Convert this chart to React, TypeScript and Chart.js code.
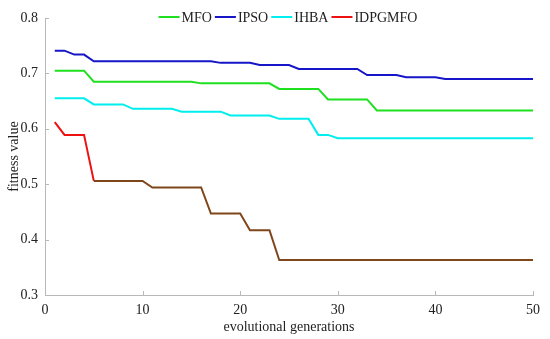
import React, { useEffect, useRef } from 'react';
import { Chart, registerables } from 'chart.js';

Chart.register(...registerables);

const generations = [
  1, 2, 3, 4, 5, 6, 7, 8, 9, 10,
  11, 12, 13, 14, 15, 16, 17, 18, 19, 20,
  21, 22, 23, 24, 25, 26, 27, 28, 29, 30,
  31, 32, 33, 34, 35, 36, 37, 38, 39, 40,
  41, 42, 43, 44, 45, 46, 47, 48, 49, 50,
];

const mfo = [
  0.705, 0.705, 0.705, 0.705, 0.685, 0.685, 0.685, 0.685, 0.685, 0.685,
  0.685, 0.685, 0.685, 0.685, 0.685, 0.682, 0.682, 0.682, 0.682, 0.682,
  0.682, 0.682, 0.682, 0.672, 0.672, 0.672, 0.672, 0.672, 0.653, 0.653,
  0.653, 0.653, 0.653, 0.633, 0.633, 0.633, 0.633, 0.633, 0.633, 0.633,
  0.633, 0.633, 0.633, 0.633, 0.633, 0.633, 0.633, 0.633, 0.633, 0.633,
];

const ipso = [
  0.741, 0.741, 0.734, 0.734, 0.722, 0.722, 0.722, 0.722, 0.722, 0.722,
  0.722, 0.722, 0.722, 0.722, 0.722, 0.722, 0.722, 0.719, 0.719, 0.719,
  0.719, 0.715, 0.715, 0.715, 0.715, 0.708, 0.708, 0.708, 0.708, 0.708,
  0.708, 0.708, 0.697, 0.697, 0.697, 0.697, 0.693, 0.693, 0.693, 0.693,
  0.690, 0.690, 0.690, 0.690, 0.690, 0.690, 0.690, 0.690, 0.690, 0.690,
];

const ihba = [
  0.655, 0.655, 0.655, 0.655, 0.644, 0.644, 0.644, 0.644, 0.636, 0.636,
  0.636, 0.636, 0.636, 0.631, 0.631, 0.631, 0.631, 0.631, 0.624, 0.624,
  0.624, 0.624, 0.624, 0.618, 0.618, 0.618, 0.618, 0.589, 0.589, 0.583,
  0.583, 0.583, 0.583, 0.583, 0.583, 0.583, 0.583, 0.583, 0.583, 0.583,
  0.583, 0.583, 0.583, 0.583, 0.583, 0.583, 0.583, 0.583, 0.583, 0.583,
];

const idpgmfo = [
  0.612, 0.589, 0.589, 0.589, 0.506, 0.506, 0.506, 0.506, 0.506, 0.506,
  0.494, 0.494, 0.494, 0.494, 0.494, 0.494, 0.447, 0.447, 0.447, 0.447,
  0.417, 0.417, 0.417, 0.363, 0.363, 0.363, 0.363, 0.363, 0.363, 0.363,
  0.363, 0.363, 0.363, 0.363, 0.363, 0.363, 0.363, 0.363, 0.363, 0.363,
  0.363, 0.363, 0.363, 0.363, 0.363, 0.363, 0.363, 0.363, 0.363, 0.363,
];

const xTicks = [0, 10, 20, 30, 40, 50];
const yTicks = [0.3, 0.4, 0.5, 0.6, 0.7, 0.8];

const FONT = "'Liberation Serif', 'Times New Roman', serif";
const TEXT = '#222222';
const AXIS = '#b8b8b8';
const RED = '#ee1111';
const BROWN = '#80461b';

const pts = (vals: number[]) => vals.map((v, i) => ({ x: generations[i], y: v }));

const insideTicks = {
  id: 'insideTicks',
  beforeDatasetsDraw(chart: any) {
    const { ctx, chartArea, scales } = chart;
    ctx.save();
    ctx.strokeStyle = AXIS;
    ctx.lineWidth = 1;
    ctx.beginPath();
    xTicks.forEach((t) => {
      const px = Math.round(scales.x.getPixelForValue(t)) + 0.5;
      ctx.moveTo(px, chartArea.bottom);
      ctx.lineTo(px, chartArea.bottom - 4);
    });
    yTicks.forEach((t) => {
      const py = Math.round(scales.y.getPixelForValue(t)) + 0.5;
      ctx.moveTo(chartArea.left, py);
      ctx.lineTo(chartArea.left + 4, py);
    });
    ctx.stroke();
    ctx.restore();
  },
};

const insideLegend = {
  id: 'insideLegend',
  afterDraw(chart: any) {
    const { ctx, chartArea } = chart;
    ctx.save();
    ctx.font = `14px ${FONT}`;
    ctx.textBaseline = 'middle';
    ctx.textAlign = 'left';
    const lineLen = 21;
    const gap = 2;
    const itemGap = 3;
    const items = chart.data.datasets.map((ds: any) => ({
      label: ds.label,
      color: ds.legendColor,
      w: ctx.measureText(ds.label).width,
    }));
    const total =
      items.reduce((s: number, it: any) => s + lineLen + gap + it.w, 0) +
      itemGap * (items.length - 1);
    let x = (chartArea.left + chartArea.right) / 2 - total / 2 - 1;
    const y = 17;
    items.forEach((it: any) => {
      ctx.strokeStyle = it.color;
      ctx.lineWidth = 2;
      ctx.beginPath();
      ctx.moveTo(x, y);
      ctx.lineTo(x + lineLen, y);
      ctx.stroke();
      x += lineLen + gap;
      ctx.fillStyle = TEXT;
      ctx.fillText(it.label, x, y + 1);
      x += it.w + itemGap;
    });
    ctx.restore();
  },
};

export default function App() {
  const ref = useRef<HTMLCanvasElement | null>(null);

  useEffect(() => {
    if (!ref.current) return;
    const chart = new Chart(ref.current, {
      type: 'line',
      data: {
        datasets: [
          {
            label: 'MFO',
            data: pts(mfo),
            borderColor: '#1ee01e',
            legendColor: '#1ee01e',
            borderWidth: 2,
            pointRadius: 0,
            tension: 0,
          } as any,
          {
            label: 'IPSO',
            data: pts(ipso),
            borderColor: '#1616c8',
            legendColor: '#1616c8',
            borderWidth: 2,
            pointRadius: 0,
            tension: 0,
          } as any,
          {
            label: 'IHBA',
            data: pts(ihba),
            borderColor: '#00eeee',
            legendColor: '#00eeee',
            borderWidth: 2,
            pointRadius: 0,
            tension: 0,
          } as any,
          {
            label: 'IDPGMFO',
            data: pts(idpgmfo),
            borderColor: RED,
            legendColor: RED,
            borderWidth: 2,
            pointRadius: 0,
            tension: 0,
            segment: {
              borderColor: (c: any) => (c.p0DataIndex >= 4 ? BROWN : RED),
            },
          } as any,
        ],
      },
      options: {
        animation: false,
        responsive: false,
        layout: { padding: { top: 18, right: 17, bottom: 0, left: 0 } },
        plugins: {
          legend: { display: false },
          tooltip: { enabled: false },
        },
        scales: {
          x: {
            type: 'linear',
            min: 0,
            max: 50,
            afterFit: (s: any) => {
              s.height = 44;
            },
            afterBuildTicks: (s: any) => {
              s.ticks = xTicks.map((v) => ({ value: v }));
            },
            grid: { display: false, drawTicks: false },
            border: { display: true, color: AXIS, width: 1 },
            ticks: {
              padding: 7,
              color: TEXT,
              font: { family: FONT, size: 14 },
              callback: (v: any) => String(v),
            },
            title: {
              display: true,
              text: 'evolutional generations',
              color: TEXT,
              font: { family: FONT, size: 14 },
              padding: { top: 0, bottom: 3 },
            },
          },
          y: {
            type: 'linear',
            min: 0.3,
            max: 0.8,
            afterFit: (s: any) => {
              s.width = 45;
            },
            afterBuildTicks: (s: any) => {
              s.ticks = yTicks.map((v) => ({ value: v }));
            },
            grid: { display: false, drawTicks: false },
            border: { display: true, color: AXIS, width: 1 },
            ticks: {
              padding: 7,
              color: TEXT,
              font: { family: FONT, size: 14 },
              callback: (v: any) => Number(v).toFixed(1),
            },
            title: {
              display: true,
              text: 'fitness value',
              color: TEXT,
              font: { family: FONT, size: 14 },
              padding: { top: 6, bottom: 0 },
            },
          },
        },
      },
      plugins: [insideTicks, insideLegend],
    } as any);
    return () => chart.destroy();
  }, []);

  return (
    <div style={{ position: 'absolute', left: 0, top: 0, width: 550, height: 339, background: '#fff' }}>
      <canvas ref={ref} width={550} height={339} style={{ display: 'block' }} />
    </div>
  );
}
